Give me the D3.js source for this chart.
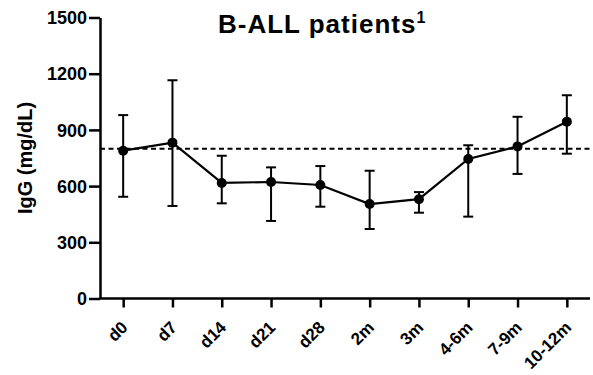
<!DOCTYPE html>
<html>
<head>
<meta charset="utf-8">
<script src="https://cdn.jsdelivr.net/npm/d3@7"></script>
<style>
  body { margin: 0; background: #fff; }
  text { font-family: Arial, "Liberation Sans", sans-serif; font-weight: bold; fill: #000; }
</style>
</head>
<body>
<svg id="chart" width="593" height="375"></svg>
<script>
// timepoints and IgG (mg/dL), mean with asymmetric error bars
const timepoints = ["d0", "d7", "d14", "d21", "d28", "2m", "3m", "4-6m", "7-9m", "10-12m"];
const meanIgG = [789, 832, 617, 622, 606, 504, 530, 745, 812, 944];
const upperIgG = [979, 1165, 762, 700, 707, 682, 568, 818, 970, 1085];
const lowerIgG = [543, 494, 508, 414, 490, 371, 458, 437, 665, 773];
const referenceIgG = 800;
const yTicks = [0, 300, 600, 900, 1200, 1500];

const svg = d3.select("#chart");
const plotLeft = 100, plotRight = 590, plotTop = 17.5, plotBottom = 298.5;

const x = d3.scalePoint().domain(timepoints).range([plotLeft, plotRight]).padding(0.47);
const y = d3.scaleLinear().domain([0, 1500]).range([plotBottom, plotTop]);

const rows = timepoints.map((t, i) => ({ t: t, m: meanIgG[i], hi: upperIgG[i], lo: lowerIgG[i] }));

// y axis
const yAxis = svg.append("g")
    .attr("transform", "translate(" + plotLeft + ",0)")
    .call(d3.axisLeft(y).tickValues(yTicks).tickFormat(d3.format("d"))
        .tickSize(11).tickPadding(2).tickSizeOuter(0));
yAxis.select(".domain").attr("stroke-width", 2.5);
yAxis.selectAll(".tick line").attr("stroke-width", 2.5);
yAxis.selectAll(".tick text").style("font-size", "18px").attr("dy", "0.34em");

// x axis
const xAxis = svg.append("g")
    .attr("transform", "translate(0," + plotBottom + ")")
    .call(d3.axisBottom(x).tickSize(9).tickSizeOuter(0));
xAxis.select(".domain").attr("d", "M" + (plotLeft - 1) + ",0H" + plotRight).attr("stroke-width", 2.5);
xAxis.selectAll(".tick line").attr("stroke-width", 2.5);
xAxis.selectAll(".tick text")
    .style("font-size", "17px")
    .attr("text-anchor", "end")
    .attr("dy", null)
    .attr("y", 0)
    .attr("transform", "translate(5,30) rotate(-45)");

// reference line
svg.append("line")
    .attr("x1", plotLeft).attr("x2", 593)
    .attr("y1", y(referenceIgG)).attr("y2", y(referenceIgG))
    .attr("stroke", "#000").attr("stroke-width", 2)
    .attr("stroke-dasharray", "5,3.5");

// error bars
const bars = svg.append("g").selectAll("g").data(rows).enter().append("g")
    .attr("stroke", "#000").attr("stroke-width", 2);
bars.append("line")
    .attr("x1", d => x(d.t)).attr("x2", d => x(d.t))
    .attr("y1", d => y(d.hi)).attr("y2", d => y(d.lo));
bars.append("line")
    .attr("x1", d => x(d.t) - 5).attr("x2", d => x(d.t) + 5)
    .attr("y1", d => y(d.hi)).attr("y2", d => y(d.hi));
bars.append("line")
    .attr("x1", d => x(d.t) - 5).attr("x2", d => x(d.t) + 5)
    .attr("y1", d => y(d.lo)).attr("y2", d => y(d.lo));

// mean line and points
svg.append("path")
    .datum(rows)
    .attr("fill", "none").attr("stroke", "#000").attr("stroke-width", 2.2)
    .attr("d", d3.line().x(d => x(d.t)).y(d => y(d.m)));
svg.append("g").selectAll("circle").data(rows).enter().append("circle")
    .attr("cx", d => x(d.t)).attr("cy", d => y(d.m)).attr("r", 5)
    .attr("fill", "#000");

// y label
svg.append("text")
    .attr("transform", "translate(32,158) rotate(-90)")
    .attr("text-anchor", "middle")
    .style("font-size", "20px")
    .text("IgG (mg/dL)");

// title
const title = svg.append("text")
    .attr("x", 218).attr("y", 33)
    .style("font-size", "26px")
    .style("letter-spacing", "1px");
title.append("tspan").text("B-ALL patients");
title.append("tspan").attr("dy", -10).style("font-size", "16px").style("letter-spacing", "0px").text("1");
</script>
</body>
</html>
